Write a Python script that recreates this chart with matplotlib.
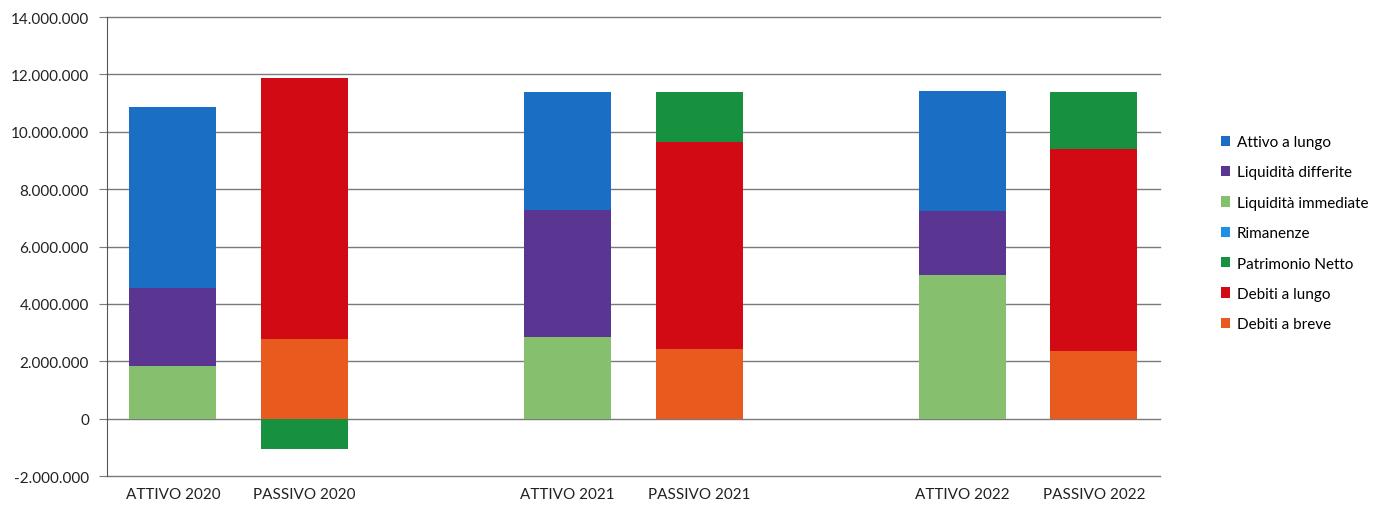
import numpy as np
import matplotlib
matplotlib.use("Agg")
import matplotlib.pyplot as plt
from matplotlib.ticker import FuncFormatter

plt.rcParams['font.family'] = ['Lato', 'DejaVu Sans']

categories = ["ATTIVO 2020", "PASSIVO 2020", "ATTIVO 2021", "PASSIVO 2021",
              "ATTIVO 2022", "PASSIVO 2022"]
positions = [0, 1, 3, 4, 6, 7]

# values per category (0 where the item does not belong to that column)
liquidita_immediate = [1820000, 0, 2830000, 0, 4990000, 0]
liquidita_differite = [2720000, 0, 4430000, 0, 2240000, 0]
rimanenze = [0, 0, 0, 0, 0, 0]
attivo_lungo = [6320000, 0, 4120000, 0, 4180000, 0]
debiti_breve = [0, 2760000, 0, 2440000, 0, 2340000]
debiti_lungo = [0, 9110000, 0, 7190000, 0, 7050000]
patrimonio_netto = [0, -1050000, 0, 1750000, 0, 1990000]

# stacking order (bottom to top)
series = [
    ("Liquidità immediate", liquidita_immediate, "#86bf6e"),
    ("Liquidità differite", liquidita_differite, "#5a3592"),
    ("Rimanenze", rimanenze, "#1e90e6"),
    ("Attivo a lungo", attivo_lungo, "#1a6fc4"),
    ("Debiti a breve", debiti_breve, "#e95a1f"),
    ("Debiti a lungo", debiti_lungo, "#d10a14"),
    ("Patrimonio Netto", patrimonio_netto, "#17903f"),
]
legend_order = ["Attivo a lungo", "Liquidità differite", "Liquidità immediate",
                "Rimanenze", "Patrimonio Netto", "Debiti a lungo", "Debiti a breve"]

fig = plt.figure(figsize=(13.76, 5.10), dpi=100)
ax = fig.add_axes([0.0778, 0.0647, 0.765, 0.90])

pos_base = np.zeros(len(categories))
neg_base = np.zeros(len(categories))
handles = {}
for name, vals, color in series:
    vals = np.array(vals, dtype=float)
    bottom = np.where(vals >= 0, pos_base, neg_base)
    bars = ax.bar(positions, vals, bottom=bottom, width=0.66, color=color,
                  linewidth=0, zorder=3)
    handles[name] = bars
    pos_base += np.where(vals >= 0, vals, 0)
    neg_base += np.where(vals < 0, vals, 0)

ax.set_xlim(-0.5, 7.5)
ax.set_ylim(-2000000, 14000000)
ax.set_yticks(np.arange(-2000000, 14000001, 2000000))
ax.yaxis.set_major_formatter(FuncFormatter(lambda v, p: f"{int(v):,}".replace(",", ".")))
ax.set_xticks(positions)
ax.set_xticklabels(categories)
ax.grid(axis='y', color='#7a7a7a', linewidth=1.0, zorder=0)
for line in ax.get_ygridlines():
    line.set_clip_on(False)
for s in ["top", "right", "bottom"]:
    ax.spines[s].set_visible(False)
ax.spines["left"].set_color("#555555")
ax.tick_params(axis='y', length=6, color='#7a7a7a', labelsize=11, labelcolor='#222222', pad=7)
ax.tick_params(axis='x', length=0, labelsize=11, labelcolor='#222222', pad=8)

fig.legend([handles[n] for n in legend_order], legend_order, loc='upper left',
           bbox_to_anchor=(0.877, 0.76), frameon=False, fontsize=11,
           labelspacing=1.07, handlelength=0.65, handleheight=0.65, handletextpad=0.4)

fig.savefig("out.png", dpi=100)
